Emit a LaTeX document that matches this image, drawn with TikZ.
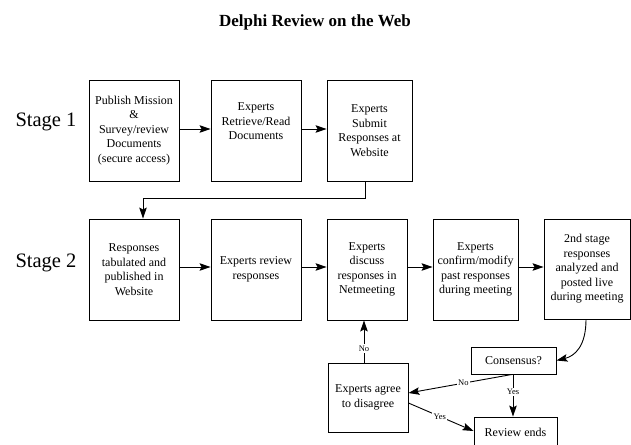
\documentclass[tikz,border=0pt]{standalone}
\usepackage{fontspec}
\setmainfont{Liberation Serif}
\usetikzlibrary{arrows.meta}
\begin{document}
\begin{tikzpicture}[x=1pt,y=-1pt,
  box/.style={draw, line width=0.9pt, inner sep=0pt, align=center,
              font=\fontsize{12}{14.5}\selectfont},
  arr/.style={line width=0.9pt, -{Stealth[length=11pt,width=7.5pt,inset=2pt]}},
  lab/.style={font=\fontsize{8.5}{10}\selectfont, fill=white, inner sep=1.5pt},
  stage/.style={font=\fontsize{20.5}{24}\selectfont, inner sep=0pt}]
\useasboundingbox (0,0) rectangle (631,444);

\node[font=\bfseries\fontsize{17}{20}\selectfont] (title) at (315,22) {Delphi Review on the Web};

\node[stage] (s1) at (46,122) {Stage 1};
\node[stage] (s2) at (46,263) {Stage 2};

% Stage 1
\node[box, minimum width=90pt, minimum height=101pt] (a1) at (134,130.5)
  {Publish Mission\\\&\\Survey/review\\Documents\\(secure access)};
\node[box, minimum width=90pt, minimum height=101pt] (a2) at (256,130.5)
  {Experts\\Retrieve/Read\\Documents\\\strut};
\node[box, minimum width=85pt, minimum height=101pt] (a3) at (369.5,130.5)
  {Experts\\Submit\\Responses at\\Website};

% Stage 2
\node[box, minimum width=90pt, minimum height=101pt] (b1) at (134,269.5)
  {Responses\\tabulated and\\published in\\Website};
\node[box, minimum width=90pt, minimum height=101pt] (b2) at (256,269.5)
  {Experts review\\responses};
\node[box, minimum width=80pt, minimum height=101pt] (b3) at (367,269.5)
  {Experts\\discuss\\responses in\\Netmeeting};
\node[box, minimum width=85pt, minimum height=101pt] (b4) at (475.5,269.5)
  {Experts\\confirm/modify\\past responses\\during meeting};
\node[box, minimum width=86pt, minimum height=100pt] (b5) at (587,269)
  {2nd stage\\responses\\analyzed and\\posted live\\during meeting};

% Decision part
\node[box, minimum width=85pt, minimum height=27pt] (c) at (513.5,360.5) {Consensus?};
\node[box, minimum width=80pt, minimum height=69pt] (d) at (368,397.5)
  {Experts agree\\to disagree};
\node[box, minimum width=83pt, minimum height=31pt] (e) at (515.5,432.5) {Review ends};

% Connectors stage 1
\draw[arr] (a1.east |- 0,129) -- (a2.west |- 0,129);
\draw[arr] (a2.east |- 0,129) -- (a3.west |- 0,129);
\coordinate (k1) at (365,198);
\coordinate (k2) at (143,198);
\draw[arr] (365,0 |- a3.south) -- (k1) -- (k2) -- (143,0 |- b1.north);

% Connectors stage 2
\draw[arr] (b1.east |- 0,267) -- (b2.west |- 0,267);
\draw[arr] (b2.east |- 0,267) -- (b3.west |- 0,267);
\draw[arr] (b3.east |- 0,267) -- (b4.west |- 0,267);
\draw[arr] (b4.east |- 0,267) -- (b5.west |- 0,267);

\draw[arr] (586,0 |- b5.south) .. controls (586,346) and (575,356) .. (c.east);

\draw[arr] (364,0 |- d.north) -- node[lab, pos=0.33]{No} (364,0 |- b3.south);
\draw[arr] (512,0 |- c.south) -- node[lab, pos=0.47]{No} (d.east |- 0,393);
\draw[arr] (513,0 |- c.south) -- node[lab, pos=0.42]{Yes} (513,0 |- e.north);
\draw[arr] (d.east |- 0,403) -- node[lab, pos=0.48]{Yes} (e.west |- 0,431);
\end{tikzpicture}
\end{document}
